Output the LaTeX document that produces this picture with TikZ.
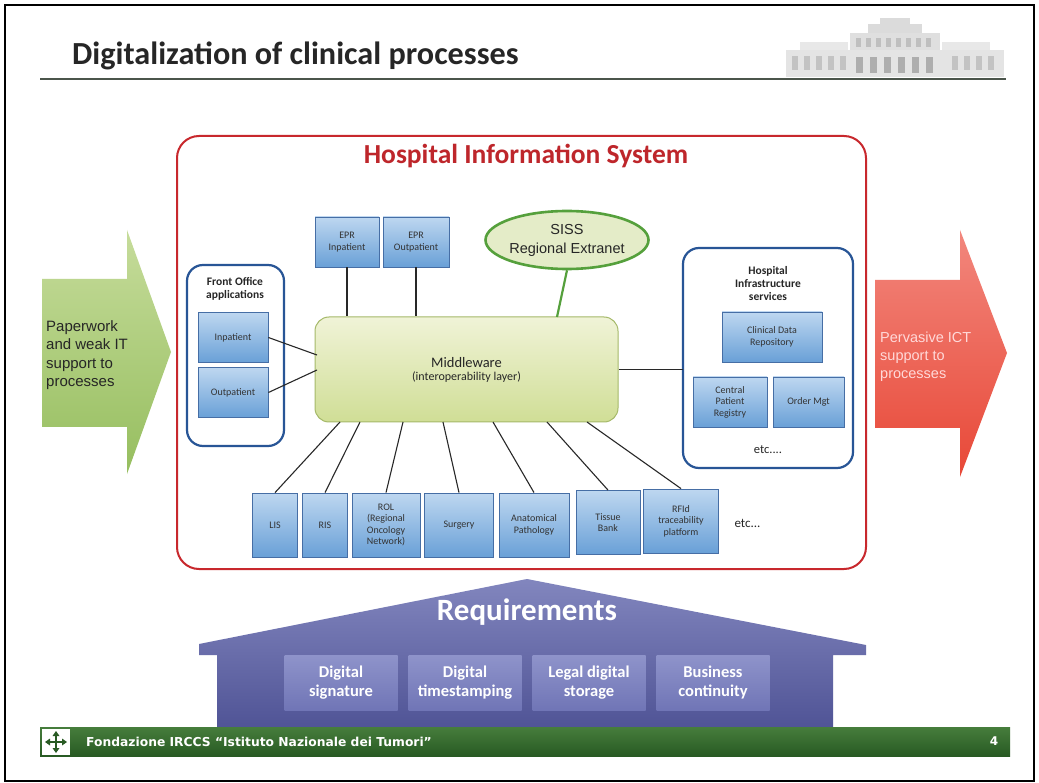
\documentclass[tikz,border=0pt]{standalone}
\usepackage{fontspec}
\setmainfont{Carlito}
\newfontfamily\arialf{Liberation Sans}
\newfontfamily\footf{DejaVu Sans}
\usetikzlibrary{shapes.geometric,calc}

\definecolor{hisred}{RGB}{200,40,45}
\definecolor{boxblueT}{RGB}{190,215,240}
\definecolor{boxblueB}{RGB}{105,160,215}
\definecolor{boxedge}{RGB}{70,110,165}
\definecolor{frameblue}{RGB}{40,85,150}
\definecolor{mwT}{RGB}{240,243,215}
\definecolor{mwB}{RGB}{208,222,150}
\definecolor{mwedge}{RGB}{165,185,105}
\definecolor{sissfill}{RGB}{228,236,200}
\definecolor{sissedge}{RGB}{85,160,60}
\definecolor{greenT}{RGB}{198,220,155}
\definecolor{greenB}{RGB}{150,190,95}
\definecolor{redT}{RGB}{242,135,125}
\definecolor{redB}{RGB}{232,72,55}
\definecolor{houseT}{RGB}{130,134,190}
\definecolor{houseB}{RGB}{80,84,150}
\definecolor{reqT}{RGB}{142,147,202}
\definecolor{reqB}{RGB}{112,117,182}
\definecolor{footT}{RGB}{70,125,60}
\definecolor{footB}{RGB}{40,90,35}
\definecolor{titlerule}{RGB}{75,85,75}
\definecolor{linkgray}{RGB}{40,40,40}

\tikzset{
  appbox/.style={draw=boxedge, line width=0.8pt, top color=boxblueT, bottom color=boxblueB,
    font=\fontsize{10}{11.5}\selectfont, text=black!80, align=center, inner sep=1pt},
  groupbox/.style={draw=frameblue, line width=2.2pt, fill=white, rounded corners=16},
  grouptitle/.style={font=\fontsize{11.5}{13.5}\selectfont\bfseries, text=black!85, align=center},
  link/.style={draw=linkgray, line width=1.1pt},
  reqbox/.style={top color=reqT, bottom color=reqB, minimum width=113, minimum height=55,
    font=\fontsize{16.5}{19}\selectfont\bfseries, text=white, align=center, inner sep=1pt},
  arrowtext/.style={font=\arialf\fontsize{15}{18.5}\selectfont, align=left, inner sep=0pt},
}

\begin{document}
\begin{tikzpicture}[x=1pt,y=-1pt]
\useasboundingbox (0,0) rectangle (1039,783);
\fill[white] (0,0) rectangle (1039,783);

% slide frame
\draw[black, line width=2.5pt] (5,5) rectangle (1034,781);

% heading and rule
\node[anchor=base west, inner sep=0pt, font=\fontsize{32.2}{34}\selectfont\bfseries, text=black!85]
  (title) at (72,65) {Digitalization of clinical processes};
\draw[titlerule, line width=2pt] (40,79) -- (1006,79);

% building vignette
\begin{scope}[opacity=0.35]
  \fill[gray!60] (786,50) rectangle (1004,77);
  \fill[gray!70] (850,33) rectangle (940,50);
  \fill[gray!80] (868,24) rectangle (922,33);
  \fill[gray!80] (880,18) rectangle (910,24);
  \fill[gray!50] (800,42) rectangle (848,50);
  \fill[gray!50] (942,42) rectangle (990,50);
  \foreach \wx in {792,804,816,828,840,952,964,976,988}
    \fill[gray!95] (\wx,56) rectangle ++(6,14);
  \foreach \wx in {856,866,876,886,896,906,916,926}
    \fill[gray!95] (\wx,38) rectangle ++(5,9);
  \foreach \wx in {856,870,884,898,912,926}
    \fill[black!70] (\wx,57) rectangle ++(7,16);
\end{scope}

% process arrows
\shade[top color=greenT, bottom color=greenB]
  (42,279) -- (127,279) -- (127,230) -- (171,352) -- (127,474) -- (127,427) -- (42,427) -- cycle;
\node[arrowtext, anchor=north west, text=black!85] (paper) at (46,320)
  {Paperwork\\and weak IT\\support to\\processes};

\shade[top color=redT, bottom color=redB]
  (875,280) -- (960,280) -- (960,230) -- (1007,353) -- (960,477) -- (960,428) -- (875,428) -- cycle;
\node[arrowtext, anchor=north west, text=white!85!red, font=\arialf\fontsize{14.5}{18}\selectfont]
  (pervasive) at (880,332) {Pervasive ICT\\support to\\processes};

% hospital information system frame
\draw[hisred, line width=2pt, rounded corners=22] (177,136) rectangle (866,569);
\node[font=\fontsize{27.5}{30}\selectfont\bfseries, text=hisred!95!black] (histitle) at (526,156)
  {Hospital Information System};

% front office group
\draw[groupbox] (187,265) rectangle (284,446);
\node[grouptitle] (fotitle) at (235,289) {Front Office\\applications};
\node[appbox, minimum width=70, minimum height=50] (inp) at (233,337.5) {Inpatient};
\node[appbox, minimum width=70, minimum height=50] (outp) at (233,392.5) {Outpatient};

% infrastructure group
\draw[groupbox] (683,248) rectangle (853,468);
\node[grouptitle, font=\fontsize{11.5}{13}\selectfont\bfseries] (infratitle) at (768,284)
  {Hospital\\Infrastructure\\services};
\node[appbox, minimum width=100, minimum height=50] (cdr) at (772,337) {Clinical Data\\Repository};
\node[appbox, minimum width=74, minimum height=50] (cpr) at (730,402) {Central\\Patient\\Registry};
\node[appbox, minimum width=71, minimum height=50] (order) at (808.5,402) {Order Mgt};
\node[font=\fontsize{12.5}{14}\selectfont, text=black!85] (etcinfra) at (768,450) {etc....};

% middleware
\node[draw=mwedge, line width=1pt, top color=mwT, bottom color=mwB, rounded corners=14,
  minimum width=303, minimum height=105, align=center, text=black!85] (mw) at (466.5,369.5)
  {\fontsize{14.5}{18}\selectfont Middleware\\[1pt]\fontsize{12}{14}\selectfont(interoperability layer)};

% electronic patient records
\node[appbox, minimum width=64, minimum height=50] (epri) at (347,242) {EPR\\Inpatient};
\node[appbox, minimum width=66, minimum height=50] (epro) at (416,242) {EPR\\Outpatient};

% regional extranet
\node[ellipse, draw=sissedge, line width=2.6pt, fill=sissfill, minimum width=158, minimum height=58,
  inner sep=0pt, align=center, font=\arialf\fontsize{14.5}{19}\selectfont, text=black!85] (siss) at (567,240)
  {SISS\\Regional Extranet};

% departmental systems
\node[appbox, minimum width=45, minimum height=64] (lis) at (275,525) {LIS};
\node[appbox, minimum width=45, minimum height=64] (ris) at (325,525) {RIS};
\node[appbox, minimum width=68, minimum height=64] (rol) at (386,525) {ROL\\(Regional\\Oncology\\Network)};
\node[appbox, minimum width=69, minimum height=64] (surg) at (459,525) {Surgery};
\node[appbox, minimum width=70, minimum height=64] (anat) at (534,525) {Anatomical\\Pathology};
\node[appbox, minimum width=64, minimum height=64] (tissue) at (608,522.5) {Tissue\\Bank};
\node[appbox, minimum width=75, minimum height=64] (rfid) at (681,521) {RFId\\traceability\\platform};
\node[font=\fontsize{13}{15}\selectfont, text=black!85, anchor=west] (etcapps) at (731,523) {etc...};

% attachment points on the middleware
\coordinate (mfin) at (317,355);
\coordinate (mfout) at (317,370);
\coordinate (msiss) at (557,317);
\coordinate (m1) at (340,422);
\coordinate (m2) at (360,422);
\coordinate (m3) at (403,422);
\coordinate (m4) at (443,422);
\coordinate (m5) at (493,422);
\coordinate (m6) at (547,422);
\coordinate (m7) at (587,422);

% connections
\draw[link] (epri.south) -- (epri.south |- mw.north);
\draw[link] (epro.south) -- (epro.south |- mw.north);
\draw[link] (inp.east) -- (mfin);
\draw[link] (outp.east) -- (mfout);
\draw[link] (mw.east) -- (mw.east -| 683,0);
\draw[draw=sissedge, line width=2.2pt] (siss.south) -- (msiss);
\draw[link] (m1) -- (lis.north);
\draw[link] (m2) -- (ris.north);
\draw[link] (m3) -- (rol.north);
\draw[link] (m4) -- (surg.north);
\draw[link] (m5) -- (anat.north);
\draw[link] (m6) -- (tissue.north);
\draw[link] (m7) -- (rfid.north);

% requirements house
\shade[top color=houseT, bottom color=houseB]
  (217,727) -- (217,655) -- (199,655) -- (199,644) -- (527,579) -- (866,645) -- (866,655)
  -- (833,655) -- (833,727) -- cycle;
\node[font=\fontsize{31}{34}\selectfont\bfseries, text=white] (req) at (527,612) {Requirements};
\node[reqbox] (sig) at (341,683) {Digital\\signature};
\node[reqbox] (stamp) at (465,683) {Digital\\timestamping};
\node[reqbox] (store) at (589,683) {Legal digital\\storage};
\node[reqbox] (cont) at (713,683) {Business\\continuity};

% footer band
\shade[top color=footT, bottom color=footB] (40,727) rectangle (1010,756);
\fill[white] (42,729) rectangle (70,755);
\begin{scope}[footB, line width=1.6pt]
  \draw (48,742) -- (64,742);
  \draw (56,733) -- (56,751);
  \fill (45,742) -- (50,738.5) -- (50,745.5) -- cycle;
  \fill (67,742) -- (62,738.5) -- (62,745.5) -- cycle;
  \fill (56,731) -- (52.5,736) -- (59.5,736) -- cycle;
  \fill (56,753) -- (52.5,748) -- (59.5,748) -- cycle;
\end{scope}
\node[anchor=west, inner sep=0pt, font=\footf\fontsize{12.3}{14}\selectfont\bfseries, text=white]
  (foot) at (86,742) {Fondazione IRCCS “Istituto Nazionale dei Tumori”};
\node[font=\footf\fontsize{12}{14}\selectfont\bfseries, text=white] (pagenum) at (994,741) {4};
\end{tikzpicture}
\end{document}
